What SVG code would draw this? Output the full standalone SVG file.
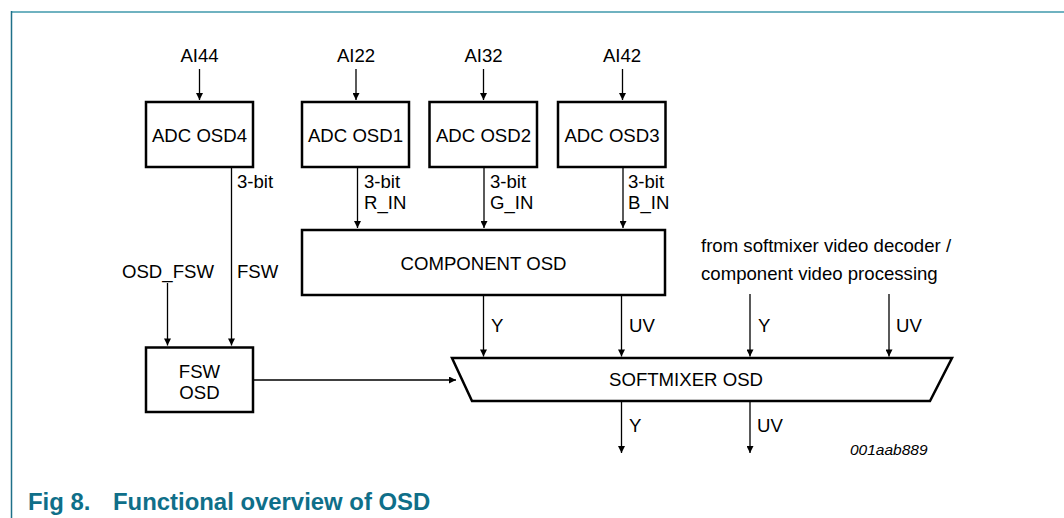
<svg xmlns="http://www.w3.org/2000/svg" width="1064" height="518" viewBox="0 0 1064 518">
<style>
text{font-family:"Liberation Sans",Arial,sans-serif;font-size:18.6px;fill:#000}
.box{fill:#fff;stroke:#000;stroke-width:2.5}
.ln{stroke:#000;stroke-width:1.3;fill:none}
.mid{text-anchor:middle}
.cap{font-weight:bold;font-size:23.9px;fill:#0f6f89}
.id{font-style:italic;font-size:15.5px}
</style>
<defs>
<marker id="ah" viewBox="0 0 10 10" refX="10" refY="5" markerWidth="8" markerHeight="7" markerUnits="userSpaceOnUse" orient="auto">
<path d="M0,0 L10,5 L0,10 z" fill="#000"/>
</marker>
</defs>
<rect width="1064" height="518" fill="#fff"/>
<line x1="12" y1="12" x2="1064" y2="12" stroke="#6fb2c0" stroke-width="2"/>
<line x1="11.5" y1="11" x2="11.5" y2="518" stroke="#1f7089" stroke-width="1.5"/>

<g id="adc4"><rect class="box" x="146" y="102" width="107" height="65"/><text class="mid" x="199.5" y="141.5">ADC OSD4</text></g>
<g id="adc1"><rect class="box" x="302" y="102" width="107" height="65"/><text class="mid" x="355.5" y="141.5">ADC OSD1</text></g>
<g id="adc2"><rect class="box" x="429.5" y="102" width="107.5" height="65"/><text class="mid" x="483.5" y="141.5">ADC OSD2</text></g>
<g id="adc3"><rect class="box" x="558" y="102" width="107.5" height="65"/><text class="mid" x="612" y="141.5">ADC OSD3</text></g>
<g id="comp"><rect class="box" x="302" y="230" width="363" height="65"/><text class="mid" x="483.5" y="270">COMPONENT OSD</text></g>
<g id="fsw"><rect class="box" x="146" y="347.5" width="107" height="64.5"/><text class="mid" x="199.5" y="378">FSW</text><text class="mid" x="199.5" y="399">OSD</text></g>
<g id="softmixer"><path class="box" d="M452,358 L952,358 L930,401 L472,401 Z"/><text class="mid" x="686" y="385.5">SOFTMIXER OSD</text></g>

<g id="connectors">
<line class="ln" x1="199.5" y1="69" x2="199.5" y2="100" marker-end="url(#ah)"/>
<line class="ln" x1="356" y1="69" x2="356" y2="100" marker-end="url(#ah)"/>
<line class="ln" x1="483.5" y1="69" x2="483.5" y2="100" marker-end="url(#ah)"/>
<line class="ln" x1="622.5" y1="69" x2="622.5" y2="100" marker-end="url(#ah)"/>
<line class="ln" x1="357.5" y1="168" x2="357.5" y2="228" marker-end="url(#ah)"/>
<line class="ln" x1="484" y1="168" x2="484" y2="228" marker-end="url(#ah)"/>
<line class="ln" x1="623" y1="168" x2="623" y2="228" marker-end="url(#ah)"/>
<line class="ln" x1="231.5" y1="168" x2="231.5" y2="345.5" marker-end="url(#ah)"/>
<line class="ln" x1="167.5" y1="283" x2="167.5" y2="345.5" marker-end="url(#ah)"/>
<line class="ln" x1="253" y1="380" x2="456" y2="380" marker-end="url(#ah)"/>
<line class="ln" x1="483.5" y1="296" x2="483.5" y2="356.5" marker-end="url(#ah)"/>
<line class="ln" x1="621.5" y1="296" x2="621.5" y2="356.5" marker-end="url(#ah)"/>
<line class="ln" x1="750" y1="294" x2="750" y2="356.5" marker-end="url(#ah)"/>
<line class="ln" x1="889" y1="294" x2="889" y2="356.5" marker-end="url(#ah)"/>
<line class="ln" x1="621.5" y1="402" x2="621.5" y2="453" marker-end="url(#ah)"/>
<line class="ln" x1="750" y1="402" x2="750" y2="453" marker-end="url(#ah)"/>
</g>

<g id="labels">
<text class="mid" x="199.5" y="62">AI44</text>
<text class="mid" x="356" y="62">AI22</text>
<text class="mid" x="483.5" y="62">AI32</text>
<text class="mid" x="622" y="62">AI42</text>
<text x="237" y="188">3-bit</text>
<text x="364" y="188">3-bit</text>
<text x="490" y="188">3-bit</text>
<text x="628" y="188">3-bit</text>
<text x="364" y="209">R_IN</text>
<text x="490" y="209">G_IN</text>
<text x="628" y="209">B_IN</text>
<text x="122" y="278">OSD_FSW</text>
<text x="237" y="278">FSW</text>
<text x="491" y="332">Y</text>
<text x="629" y="332">UV</text>
<text x="758" y="332">Y</text>
<text x="896" y="332">UV</text>
<text x="629" y="432">Y</text>
<text x="757" y="432">UV</text>
<text x="701" y="252">from softmixer video decoder /</text>
<text x="701" y="280">component video processing</text>
<text class="id" x="850" y="455">001aab889</text>
<text class="cap" x="28" y="510">Fig 8.</text>
<text class="cap" x="113" y="510">Functional overview of OSD</text>
</g>
</svg>
